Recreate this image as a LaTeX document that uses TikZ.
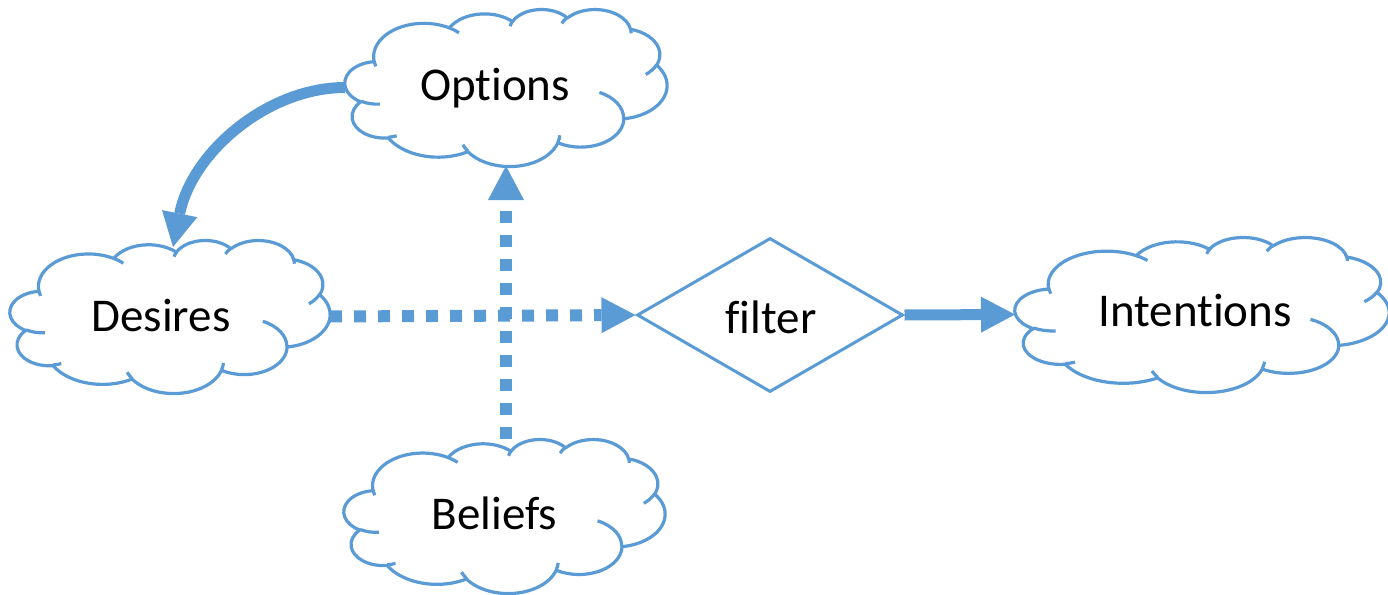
\documentclass[tikz,border=0pt]{standalone}
\usepackage{fontspec}
\setmainfont{Carlito}[Ligatures=NoCommon]
\usetikzlibrary{arrows.meta,shapes.geometric}
\definecolor{obl}{HTML}{5B9BD5}

% Office "cloud" preset geometry, built once (units: 1/1000 of the 43200 grid)
\newcommand\cloudouter{}
\newcommand\cloudinner{}
\newcommand\addarc[5]{%
  \edef\tmpA{\fpeval{round(atand(#2*sind(#4/60000),#3*cosd(#4/60000)),4)}}%
  \edef\tmpB{\fpeval{round(atand(#2*sind((#4+#5)/60000),#3*cosd((#4+#5)/60000)),4)}}%
  \edef\tmpB{\fpeval{(\tmpB<\tmpA) ? (\tmpB+360) : \tmpB}}%
  \xdef#1{\unexpanded\expandafter{#1} arc[x radius=\fpeval{#2/1000},y radius=\fpeval{#3/1000},start angle=\tmpA,end angle=\tmpB]}%
}
\newcommand\addpt[3]{\xdef#1{\unexpanded\expandafter{#1} (\fpeval{#2/1000},\fpeval{#3/1000})}}

\addpt\cloudouter{3900}{14370}
\addarc\cloudouter{6753}{9190}{-11429249}{7426832}
\addarc\cloudouter{5333}{7267}{-8646143}{5396714}
\addarc\cloudouter{4365}{5945}{-8748475}{5983381}
\addarc\cloudouter{4857}{6595}{-7859164}{7034504}
\addarc\cloudouter{5333}{7273}{-4722533}{6541615}
\addarc\cloudouter{6775}{9220}{-2776035}{7816140}
\addarc\cloudouter{5785}{7867}{37501}{6842000}
\addarc\cloudouter{6752}{9215}{1347096}{6910353}
\addarc\cloudouter{7720}{10543}{3974558}{4542661}
\addarc\cloudouter{4360}{5918}{-16496525}{8804134}
\addarc\cloudouter{4345}{5945}{-14809710}{9151131}

\addpt\cloudinner{4693}{26177}
\addarc\cloudinner{4345}{5945}{5204520}{1585770}
\addpt\cloudinner{6928}{34899}
\addarc\cloudinner{4360}{5918}{4416628}{686848}
\addpt\cloudinner{16478}{39090}
\addarc\cloudinner{6752}{9215}{8257449}{844866}
\addpt\cloudinner{28827}{34751}
\addarc\cloudinner{6752}{9215}{387196}{959901}
\addpt\cloudinner{34129}{22954}
\addarc\cloudinner{5785}{7867}{-4217541}{4255042}
\addpt\cloudinner{41798}{15354}
\addarc\cloudinner{5333}{7273}{1819082}{1665090}
\addpt\cloudinner{38324}{5426}
\addarc\cloudinner{4857}{6595}{-824660}{891534}
\addpt\cloudinner{29078}{3952}
\addarc\cloudinner{4857}{6595}{-8950887}{1091722}
\addpt\cloudinner{22141}{4720}
\addarc\cloudinner{4365}{5945}{-9809656}{1061181}
\addpt\cloudinner{14000}{5192}
\addarc\cloudinner{6753}{9190}{-4002417}{739161}
\addpt\cloudinner{4127}{15789}
\addarc\cloudinner{6753}{9190}{9459261}{711490}

\tikzset{
  cloudline/.style={draw=obl, line width=3.2pt, line join=round},
  cloudbox/.style={rectangle, inner sep=0pt, outer sep=0pt},
  txt/.style={font=\fontsize{47pt}{56pt}\selectfont, anchor=base, inner sep=0pt},
  thickarrow/.style={draw=obl, line width=11pt, line cap=butt,
    -{Triangle[length=34pt,width=36pt,line width=0pt]}},
  dotarrow/.style={draw=obl, line width=12pt, line cap=butt, dash pattern=on 12pt off 12pt,
    -{Triangle[length=34pt,width=36pt,line width=0pt]}},
}

% name, left, top, width, height
\newcommand\ocloud[5]{%
  \node[cloudbox, minimum width=#4pt, minimum height=#5pt] (#1) at (#2+#4/2, #3+#5/2) {};
  \begin{scope}[shift={(#2,#3)}, xscale=#4/43.2, yscale=#5/43.2]
    \edef\tmpdraw{\noexpand\filldraw[cloudline, fill=white] \cloudouter -- cycle;}\tmpdraw
    \edef\tmpdraw{\noexpand\draw[cloudline] \cloudinner;}\tmpdraw
  \end{scope}%
}

\begin{document}
\begin{tikzpicture}[x=1pt, y=-1pt]
\useasboundingbox (0,0) rectangle (1388,594);

\ocloud{options}{345}{9}{322}{157}
\ocloud{desires}{10}{240}{320}{153}
\ocloud{beliefs}{344}{439}{321}{154}
\ocloud{intentions}{1015}{237}{374}{155}

\node[diamond, draw=obl, line width=3pt, fill=white, inner sep=0pt, aspect=1.727,
      minimum width=266pt, minimum height=154pt] (filter) at (770,315) {};

\node[txt] (options-text) at (495,100) {Options};
\node[txt] (desires-text) at (161,331) {Desires};
\node[txt] (beliefs-text) at (494.5,529) {Beliefs};
\node[txt] (intentions-text) at (1195,326) {Intentions};
\node[txt] (filter-text) at (771,333) {filter};

\coordinate (desires-top) at (173,247);

\draw[thickarrow] (options.west) .. controls (268,87.5) and (192,152) .. (desires-top);
\draw[dotarrow] (desires.east) -- (filter.west);
\draw[dotarrow] (options.south |- beliefs.north) -- (options.south);
\draw[thickarrow] (filter.east) -- (intentions.west);
\end{tikzpicture}
\end{document}
